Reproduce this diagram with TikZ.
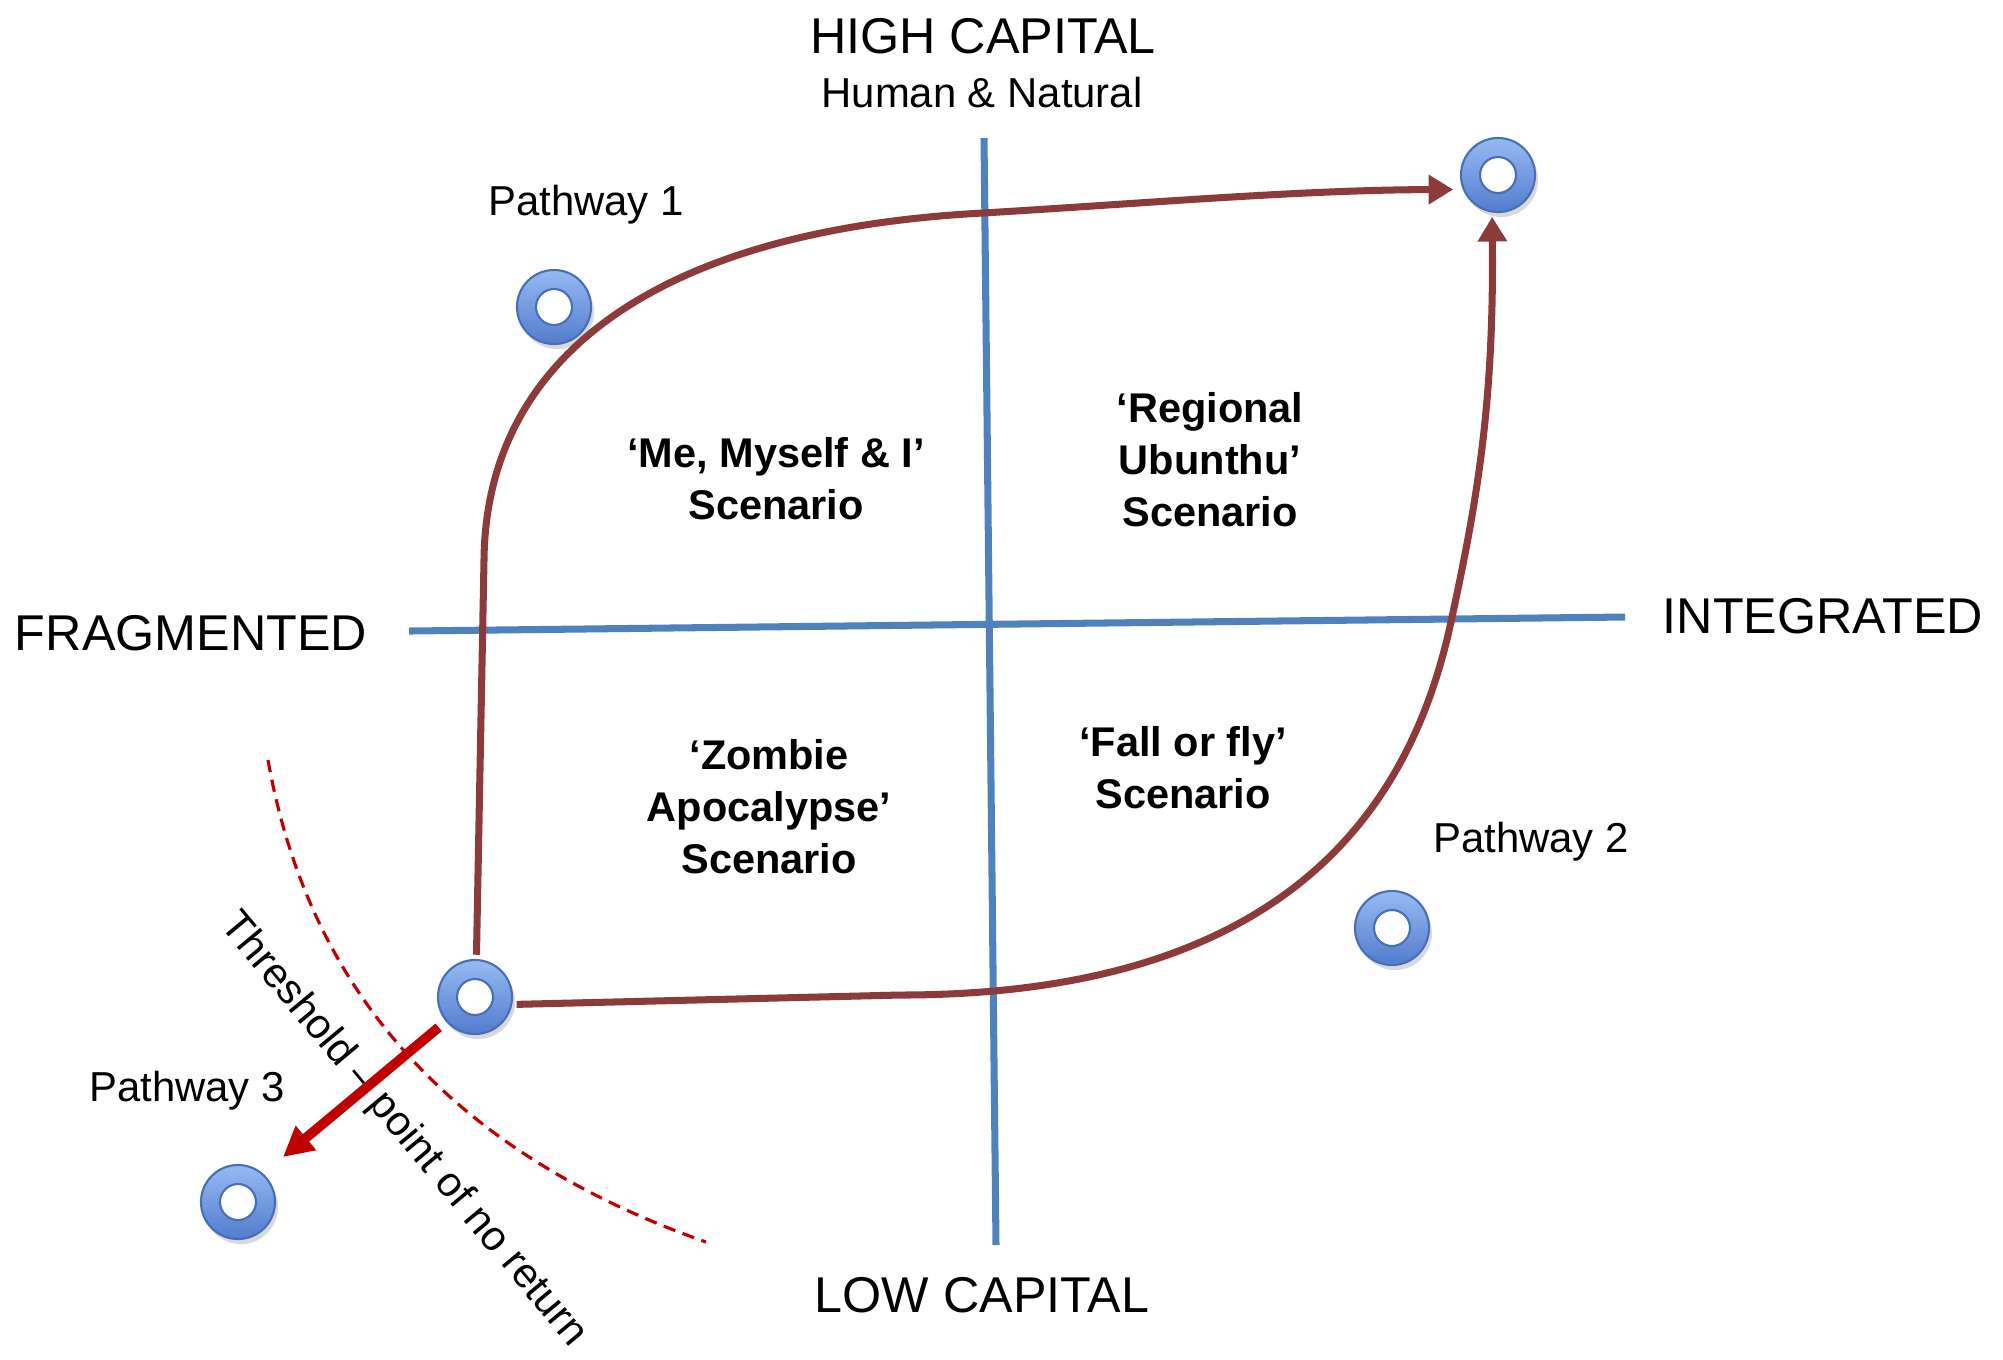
\documentclass[tikz,border=0pt]{standalone}
\usepackage{fontspec}
\setmainfont{Liberation Sans}
\usetikzlibrary{arrows.meta,shadows}
\definecolor{axisblue}{RGB}{79,129,189}
\definecolor{pathbrown}{RGB}{140,58,58}
\definecolor{darkred}{RGB}{192,0,0}
\definecolor{ringtop}{RGB}{150,186,242}
\definecolor{ringbot}{RGB}{82,124,206}
\definecolor{ringedge}{RGB}{72,110,182}
\tikzset{%
	ring/.style={circle,minimum size=0.74cm,inner sep=0pt,outer sep=1.5pt,
		draw=ringedge,line width=0.6pt,top color=ringtop,bottom color=ringbot,
		drop shadow={shadow xshift=0.03cm,shadow yshift=-0.05cm,opacity=0.3},
		path picture={\fill[white,draw=ringedge,line width=0.6pt]
			(path picture bounding box.center) circle (0.18cm);},
		name=#1},
	axislbl/.style={font=\fontsize{14.3}{17}\selectfont},
	sublbl/.style={font=\fontsize{11.9}{14}\selectfont},
	scen/.style={font=\fontsize{11.8}{14.8}\selectfont\bfseries,align=center}
}

\begin{document}
\begin{tikzpicture}[x=0.01cm,y=-0.01cm,
	axisline/.style={draw=axisblue,line width=2pt},
	brownarrow/.style={draw=pathbrown,line width=2pt,-{Triangle[length=7pt,width=8pt]}}]
	\useasboundingbox (0,0) rectangle (2003,1359);
	\coordinate (N) at (984,138);
	\coordinate (S) at (996,1245);
	\coordinate (W) at (409,631);
	\coordinate (E) at (1625,617);
	\draw [axisline] (N) -- (S);
	\draw [axisline] (W) -- (E);
	\node [axislbl, anchor=base] (high) at (983,53) {HIGH CAPITAL};
	\node [sublbl, anchor=base] (hn) at (982,107) {Human \& Natural};
	\node [axislbl, anchor=base] (low) at (982,1312) {LOW CAPITAL};
	\node [axislbl, anchor=base] (frag) at (191,650) {FRAGMENTED};
	\node [axislbl, anchor=base] (integ) at (1823,633) {INTEGRATED};
	\node [scen] (me) at (776,479) {‘Me, Myself \& I’\\Scenario};
	\node [scen] (ubu) at (1210,460) {‘Regional\\Ubunthu’\\Scenario};
	\node [scen] (zom) at (769,807) {‘Zombie\\Apocalypse’\\Scenario};
	\node [scen] (fly) at (1183,768) {‘Fall or fly’\\Scenario};
	\node [ring=d1] at (554,307) {};
	\node [ring=d2] at (1498,175) {};
	\node [ring=d3] at (475,997) {};
	\node [ring=d4] at (1392,928) {};
	\node [ring=d5] at (238,1202) {};
	\node [sublbl, anchor=base] (p1) at (586,215) {Pathway 1};
	\node [sublbl, anchor=base] (p2) at (1531,852) {Pathway 2};
	\node [sublbl, anchor=base] (p3) at (187,1101) {Pathway 3};
	\node [sublbl, rotate=-50.3] (thr) at (403,1130) {Threshold – point of no return};
	\coordinate (p3tip) at (283,1157);
	\draw [darkred, line width=0.9pt, dash pattern=on 3.5pt off 2.2pt] (268,760) .. controls (308,985) and (445,1150) .. (706,1242);
	\draw [brownarrow, shorten >=0.05cm] (d3.88) -- (484,560) .. controls (486,355) and (660,230) .. (983,213) .. controls (1150,203) and (1300,190) .. (d2.200);
	\draw [brownarrow] (d3.-10) -- (900,995) .. controls (1300,995) and (1415,795) .. (1452,617) .. controls (1478,497) and (1494,400) .. (d2.262);
	\draw [darkred, line width=2.8pt, -{Triangle[length=8.5pt,width=8.5pt]}, shorten <=0.05cm] (d3) -- (p3tip);
\end{tikzpicture}
\end{document}
